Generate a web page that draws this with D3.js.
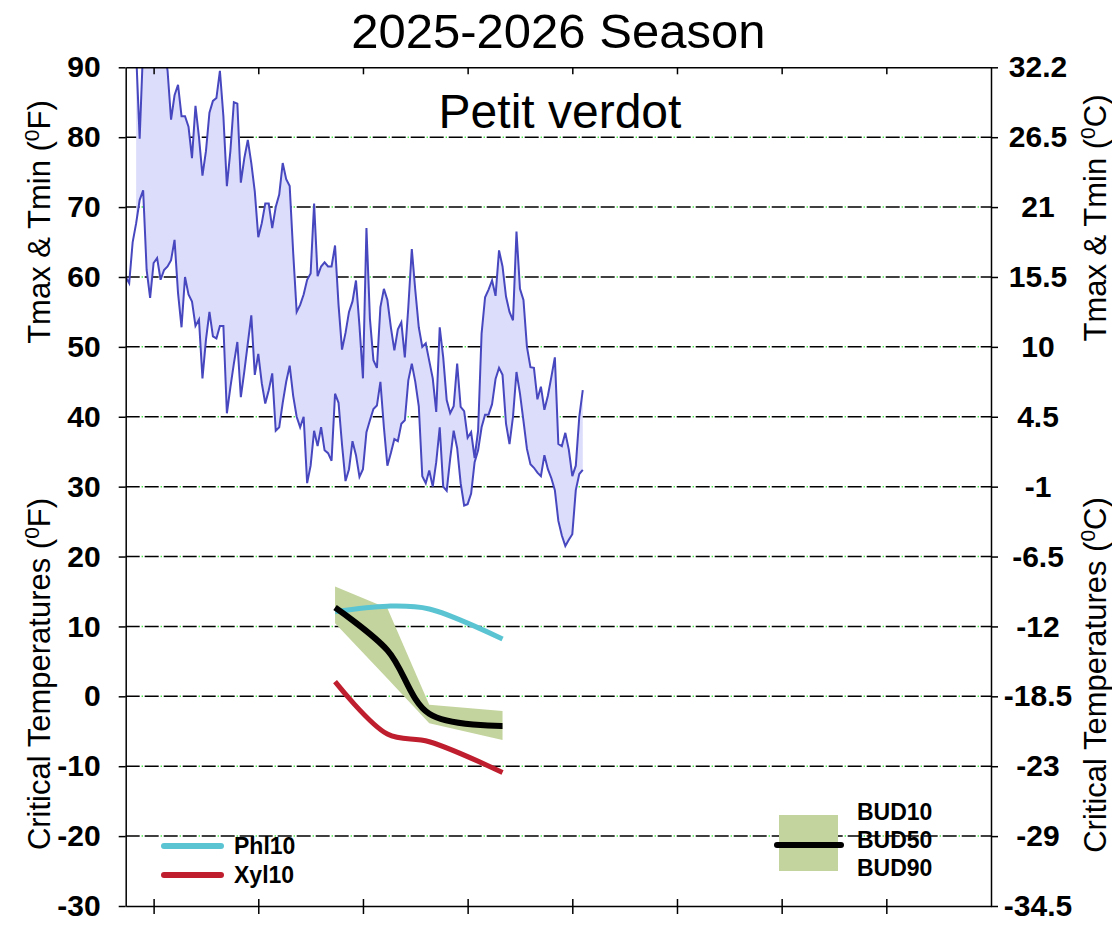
<!DOCTYPE html>
<html>
<head>
<meta charset="utf-8">
<script src="https://cdn.jsdelivr.net/npm/d3@7"></script>
<style>
  body { margin: 0; background: #fff; }
  svg { display: block; font-family: "Liberation Sans", Arial, sans-serif; }
</style>
</head>
<body>
<div id="chart"></div>
<script>
// daily air temperatures (F), day 0 = first day of the season window
const tmax = [
  null, null, null, 92, 79.8, 93, 95, 94, 96, 94,
  95, 93, 89.5, 82.5, 86, 87.5, 83, 83, 81.5, 77,
  84.5, 80, 74.5, 78, 83.5, 85.2, 85.6, 89.5, 83, 73,
  78, 85, 84.8, 73.5, 77, 79.6, 76.3, 72.2, 65.7, 67.7,
  70.5, 70.5, 67, 70, 71.8, 76.3, 74, 73, 63.5, 55,
  56, 57.5, 59.6, 60.5, 70.5, 60.1, 61.5, 62.1, 61.5, 61.5,
  64.5, 56, 49.6, 52, 55, 56.5, 59.5, 53, 45.5, 67,
  54, 48.1, 47, 55.7, 58.3, 56.7, 52.8, 49.5, 52.5, 53.5,
  48.5, 55.7, 64, 58.1, 52.8, 50, 50.5, 48, 45.5, 40.7,
  52.8, 48.5, 42.4, 40.5, 41.5, 47.6, 41.4, 40.8, 37, 37.8,
  34.1, 38, 51.9, 57.1, 58.2, 59.5, 57.3, 63.8, 61.5, 57.2,
  55, 53.8, 66.5, 58.3, 56.7, 50, 47.1, 47, 42.5, 44.3,
  41, 43, 45.7, 48.5, 36.1, 35.8, 37.7, 35.3, 31.5, 33,
  40, 43.8
];
const tmin = [
  60, 59.1, 65, 67.7, 71, 72.4, 61, 57, 62, 62.7,
  59.6, 61, 61.5, 62.4, 65.3, 57.7, 52.8, 60, 57.5, 56.5,
  53, 53.9, 45.5, 51, 55, 51.5, 51.2, 53, 53, 40.5,
  44.2, 47.6, 50.7, 42.8, 46.5, 50.5, 54.5, 46, 49, 44.8,
  41.9, 43.8, 46.2, 38, 38.5, 42, 45, 47.3, 43, 40,
  38.5, 40, 30.5, 33, 38, 35.8, 38.5, 35.2, 34.8, 33.7,
  43.3, 42, 36, 30.8, 32.5, 36.5, 34.5, 31.4, 32.5, 37.8,
  39.5, 41.1, 41.6, 45, 38.5, 33, 34.8, 36.8, 36.5, 39,
  39.5, 45.2, 47.6, 45, 41.5, 31.5, 30.5, 32.3, 30, 33.5,
  38.5, 30, 29.4, 34, 38, 35.5, 30.5, 27.3, 27.5, 29,
  33.5, 35.2, 38.5, 40.3, 40.3, 41.8, 45.4, 47, 46, 39,
  36.1, 40, 46.4, 43.3, 39.4, 35.4, 33.2, 32.7, 32, 31.5,
  34.5, 32.5, 31.2, 29.5, 25.1, 23, 21.5, 22.4, 23.2, 29.5,
  31.8, 32.4
];

// critical bud temperatures (F) on the sampling days
const critDays = [60, 75, 87, 108];
const phl10 = [12.1, 12.9, 12.5, 8.2];
const xyl10 = [2.1, -5.4, -6.5, -10.9];
const bud10 = [15.7, 12.6, -1.2, -2.1];
const bud50 = [12.7, 6.6, -2.5, -4.25];
const bud90 = [10.45, 2.55, -3.85, -6.25];

const tickDays = [8, 38, 68, 98, 128, 158, 188, 218];
const fTicks = [90, 80, 70, 60, 50, 40, 30, 20, 10, 0, -10, -20, -30];
const cLabels = ['32.2', '26.5', '21', '15.5', '10', '4.5', '-1', '-6.5', '-12', '-18.5', '-23', '-29', '-34.5'];
const gridVals = [80, 70, 60, 50, 40, 30, 20, 10, 0, -10, -20];

const W = 1112, H = 948;
const L = 125.7, R = 991, T = 67.3, B = 906;

const svg = d3.select('#chart').append('svg')
    .attr('width', W)
    .attr('height', H);

const x = d3.scaleLinear().domain([0, 248]).range([L, R]);
const y = d3.scaleLinear().domain([-30, 90]).range([B, T]);

svg.append('defs').append('clipPath').attr('id', 'plot')
    .append('rect').attr('x', L).attr('y', T).attr('width', R - L).attr('height', B - T);

// grid: black dashes with a faint green dot in each gap
const grid = svg.append('g');
grid.selectAll('line.g1').data(gridVals).enter().append('line')
    .attr('x1', L).attr('x2', R)
    .attr('y1', d => y(d)).attr('y2', d => y(d))
    .attr('stroke', '#00e000').attr('stroke-width', 1.5)
    .attr('stroke-dasharray', '1,18').attr('stroke-dashoffset', -16);
grid.selectAll('line.g2').data(gridVals).enter().append('line')
    .attr('x1', L).attr('x2', R)
    .attr('y1', d => y(d)).attr('y2', d => y(d))
    .attr('stroke', '#000').attr('stroke-width', 1.5)
    .attr('stroke-dasharray', '14,5');

// temperature band
const days = tmin.map((d, i) => i);
const plot = svg.append('g').attr('clip-path', 'url(#plot)');

plot.append('path')
    .datum(days.filter(i => tmax[i] != null))
    .attr('fill', '#dcdcfb')
    .attr('d', d3.area()
        .x(i => x(i))
        .y0(i => y(tmin[i]))
        .y1(i => y(tmax[i])));

const tline = d3.line().defined(i => tmax[i] != null).x(i => x(i)).y(i => y(tmax[i]));
plot.append('path').datum(days)
    .attr('fill', 'none').attr('stroke', '#4747bf').attr('stroke-width', 2)
    .attr('d', tline);
plot.append('path').datum(days)
    .attr('fill', 'none').attr('stroke', '#4747bf').attr('stroke-width', 2)
    .attr('d', d3.line().x(i => x(i)).y(i => y(tmin[i])));

// critical temperatures
const ci = critDays.map((d, i) => i);
svg.append('path').datum(ci)
    .attr('fill', '#c4d49e')
    .attr('d', d3.area()
        .x(i => x(critDays[i]))
        .y0(i => y(bud90[i]))
        .y1(i => y(bud10[i])));

function critLine(vals, color, w) {
    svg.append('path').datum(ci)
        .attr('fill', 'none').attr('stroke', color).attr('stroke-width', w)
        .attr('d', d3.line().curve(d3.curveCatmullRom)
            .x(i => x(critDays[i])).y(i => y(vals[i])));
}
critLine(phl10, '#5bc4d3', 5);
critLine(xyl10, '#bf1e2e', 5);
critLine(bud50, '#000', 6);

// axes
const fontAxis = g => g.selectAll('text')
    .style('font-size', '30px').style('font-weight', 'bold')
    .style('font-family', '"Liberation Sans", Arial, sans-serif').attr('fill', '#000');

svg.append('g')
    .attr('transform', `translate(${L},0)`)
    .call(d3.axisLeft(y).tickValues(fTicks).tickSize(7).tickSizeOuter(0).tickPadding(18)
        .tickFormat(d => String(d)))
    .call(fontAxis);

const rightAxis = svg.append('g')
    .attr('transform', `translate(${R},0)`)
    .call(d3.axisRight(y).tickValues(fTicks).tickSize(7).tickSizeOuter(0)
        .tickFormat((d, i) => cLabels[i]))
    .call(fontAxis);
rightAxis.selectAll('text').attr('text-anchor', 'middle').attr('x', 47);

svg.append('g')
    .attr('transform', `translate(0,${T})`)
    .call(d3.axisTop(x).tickValues(tickDays).tickSize(-7).tickSizeOuter(0).tickFormat(''));

const bottomAxis = svg.append('g')
    .attr('transform', `translate(0,${B})`)
    .call(d3.axisBottom(x).tickValues(tickDays).tickSize(8).tickSizeOuter(0).tickFormat(''));
bottomAxis.selectAll('.tick line').attr('y1', -7);

svg.selectAll('.domain, .tick line').attr('stroke', '#000').attr('stroke-width', 1.5);

// titles
svg.append('text')
    .attr('x', (L + R) / 2).attr('y', 48)
    .attr('text-anchor', 'middle')
    .style('font-size', '49px')
    .text('2025-2026 Season');

svg.append('text')
    .attr('x', 560).attr('y', 128)
    .attr('text-anchor', 'middle')
    .style('font-size', '48px')
    .text('Petit verdot');

function yTitle(tx, ty, label, unit) {
    const t = svg.append('text')
        .attr('transform', `translate(${tx},${ty}) rotate(-90)`)
        .attr('text-anchor', 'middle')
        .style('font-size', '31px');
    t.append('tspan').text(label + ' (');
    t.append('tspan').attr('dy', -11).style('font-size', '21px').text('0');
    t.append('tspan').attr('dy', 11).text(unit + ')');
}
yTitle(50, 222, 'Tmax & Tmin', 'F');
yTitle(50, 674, 'Critical Temperatures', 'F');
yTitle(1106, 218, 'Tmax & Tmin', 'C');
yTitle(1106, 675, 'Critical Temperatures', 'C');

// legends
const legend = svg.append('g').style('font-size', '23px').style('font-weight', 'bold');
[['Phl10', '#5bc4d3', 846], ['Xyl10', '#bf1e2e', 875]].forEach(([name, color, ly]) => {
    legend.append('line')
        .attr('x1', 164).attr('x2', 221).attr('y1', ly).attr('y2', ly)
        .attr('stroke', color).attr('stroke-width', 6).attr('stroke-linecap', 'round');
    legend.append('text').attr('x', 234).attr('y', ly).attr('dy', '0.36em').text(name);
});

legend.append('rect')
    .attr('x', 779).attr('y', 815).attr('width', 59).attr('height', 56)
    .attr('fill', '#c4d49e');
legend.append('line')
    .attr('x1', 777).attr('x2', 841).attr('y1', 845).attr('y2', 845)
    .attr('stroke', '#000').attr('stroke-width', 6).attr('stroke-linecap', 'round');
[['BUD10', 812], ['BUD50', 840], ['BUD90', 868]].forEach(([name, ly]) => {
    legend.append('text').attr('x', 857).attr('y', ly).attr('dy', '0.36em').text(name);
});
</script>
</body>
</html>
